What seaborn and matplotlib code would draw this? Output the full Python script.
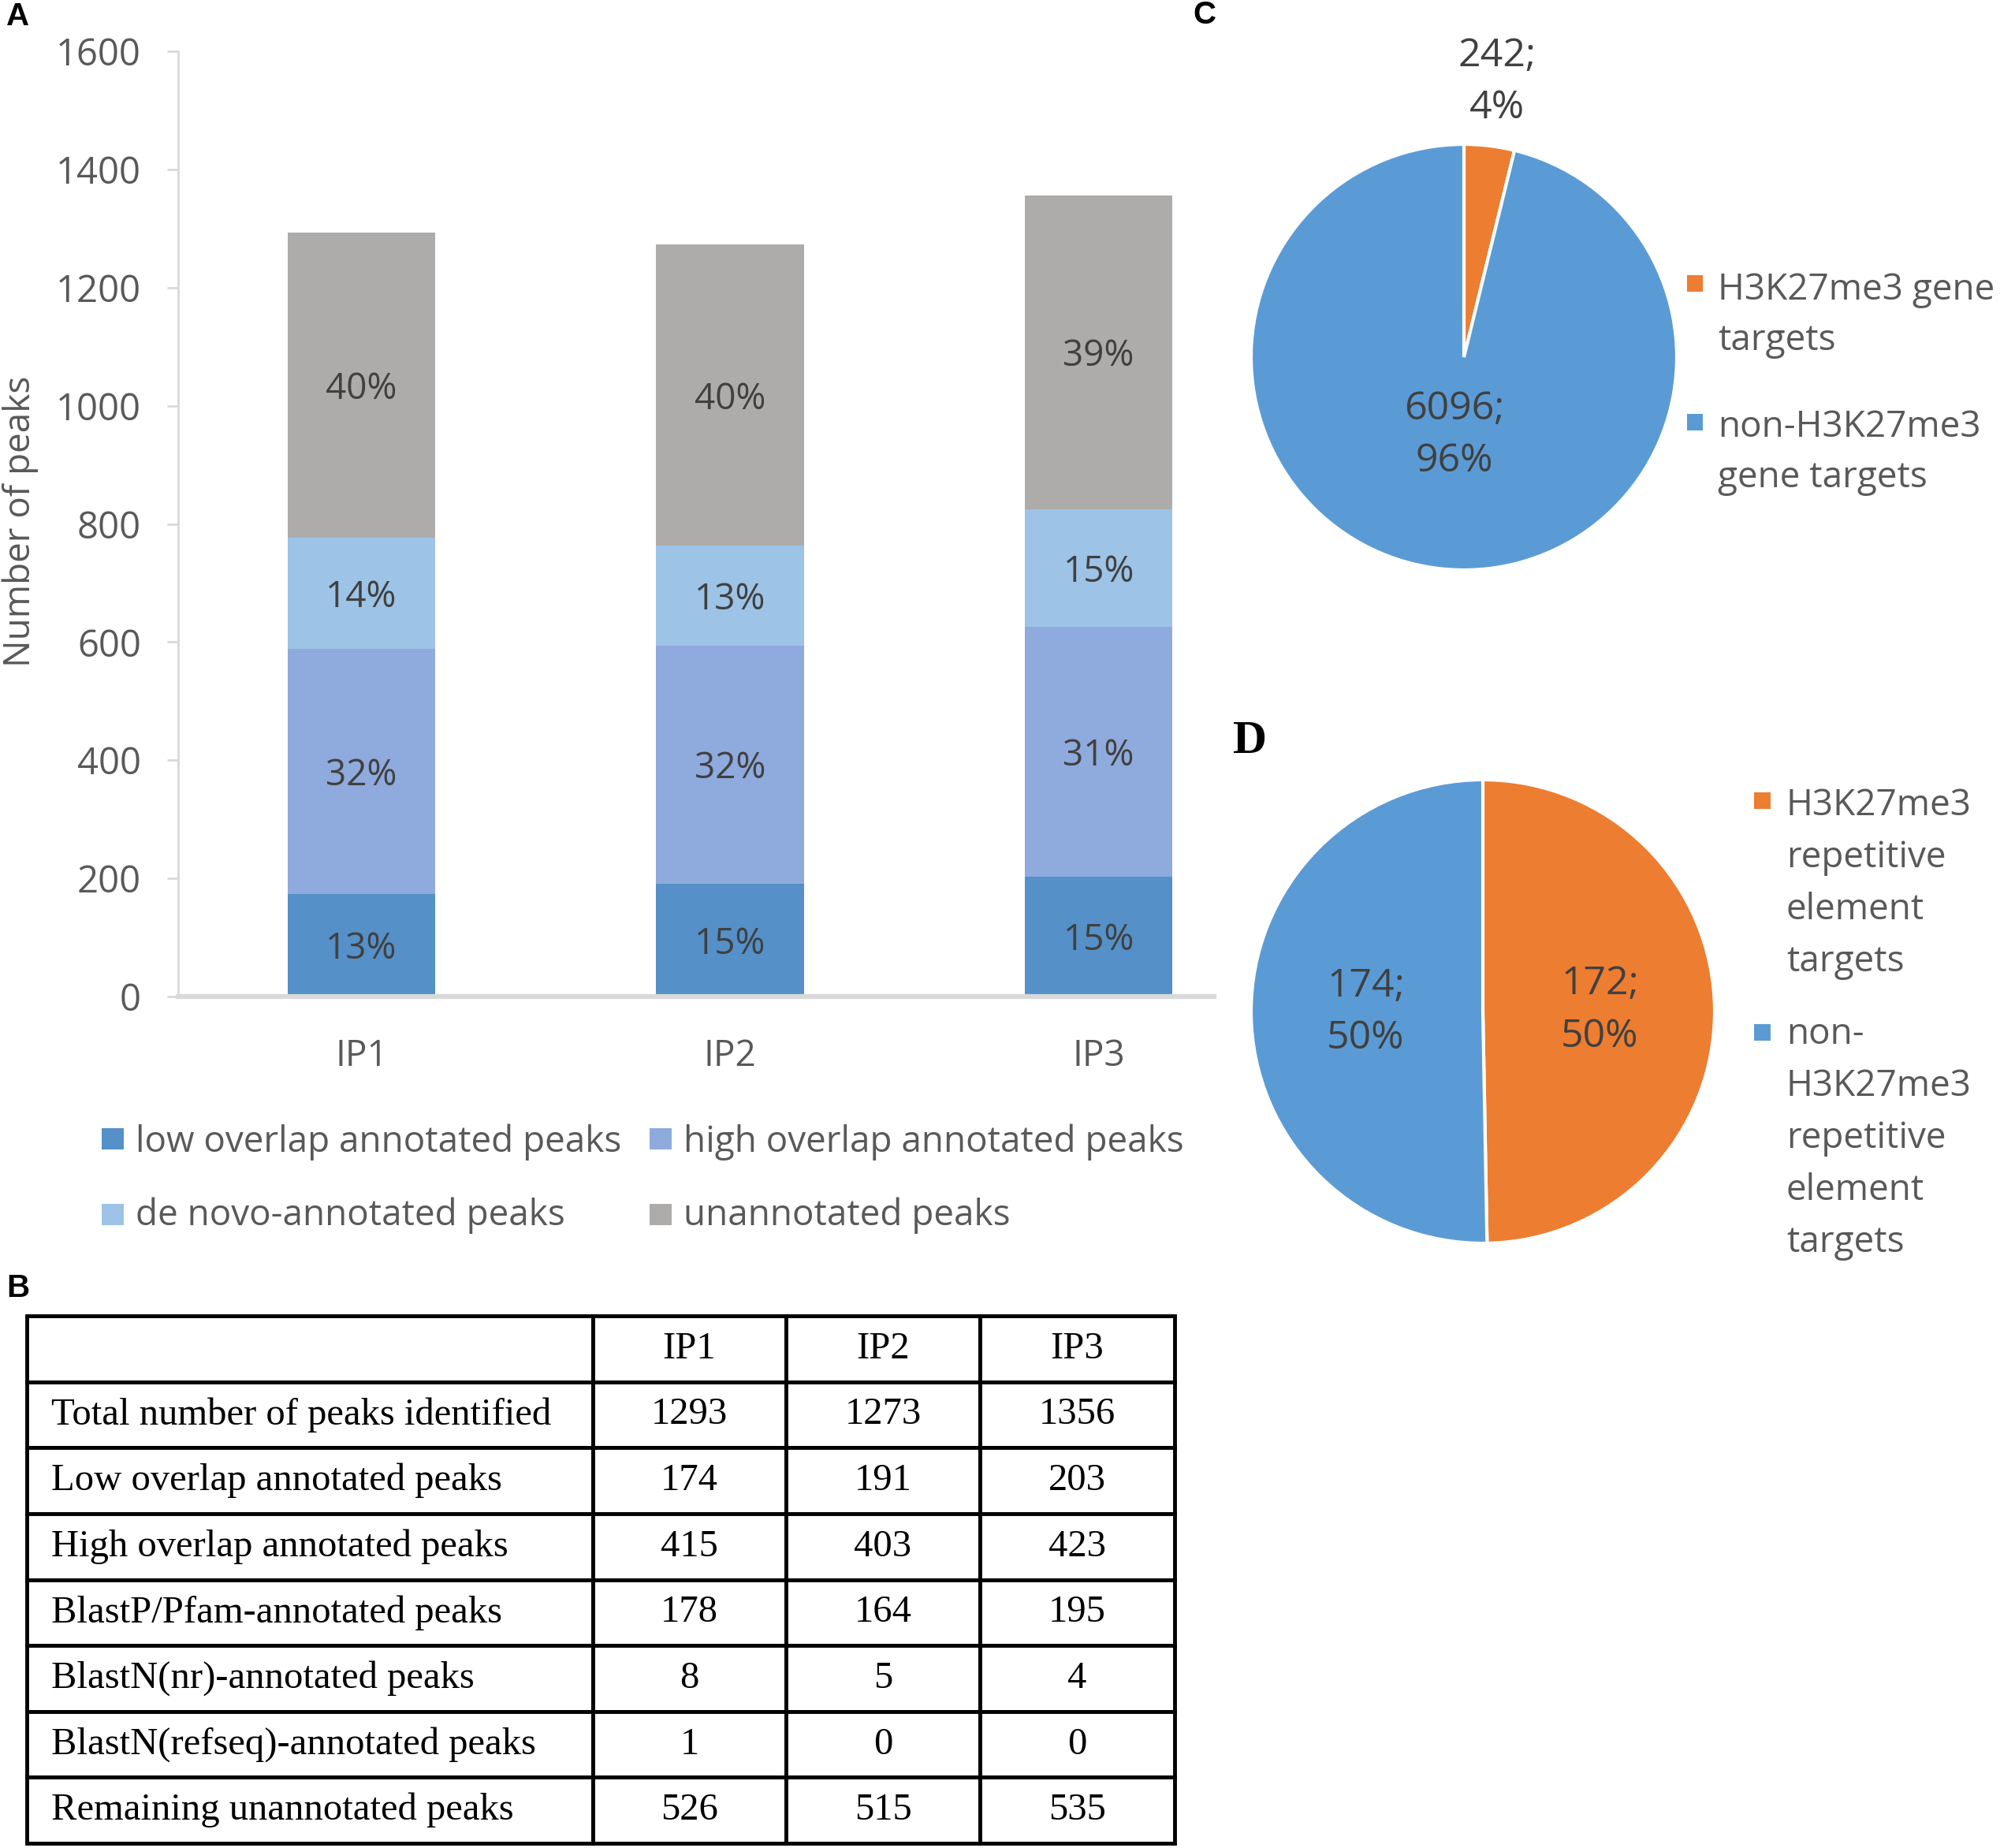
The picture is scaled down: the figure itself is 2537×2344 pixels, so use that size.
import matplotlib
matplotlib.use("Agg")
import matplotlib.pyplot as plt
from matplotlib.patches import Rectangle
import numpy as np
import seaborn as sns

# ---- data -------------------------------------------------------------
samples = ["IP1", "IP2", "IP3"]
low_overlap = [174, 191, 203]
high_overlap = [415, 403, 423]
de_novo = [187, 169, 199]
unannotated = [517, 510, 531]
totals = [1293, 1273, 1356]

layer_names = ["low overlap annotated peaks", "high overlap annotated peaks",
               "de novo-annotated peaks", "unannotated peaks"]
layer_colors = ["#5590C8", "#8FAADC", "#9DC3E6", "#AEABAB"]

table_rows = ["Total number of peaks identified", "Low overlap annotated peaks",
              "High overlap annotated peaks", "BlastP/Pfam-annotated peaks",
              "BlastN(nr)-annotated peaks", "BlastN(refseq)-annotated peaks",
              "Remaining unannotated peaks"]
ip1_counts = [1293, 174, 415, 178, 8, 1, 526]
ip2_counts = [1273, 191, 403, 164, 5, 0, 515]
ip3_counts = [1356, 203, 423, 195, 4, 0, 535]

gene_labels = ["H3K27me3 gene\ntargets", "non-H3K27me3\ngene targets"]
gene_counts = [242, 6096]
rep_labels = ["H3K27me3\nrepetitive\nelement\ntargets",
              "non-\nH3K27me3\nrepetitive\nelement\ntargets"]
rep_counts = [172, 174]

orange = "#ED7D31"
blue = "#5B9BD5"
grey_text = "#595959"
dark_text = "#404040"

W, H = 2537, 2344


def fx(px):
    return px / W


def fy(py):
    return 1 - py / H


def legend_entry(fig, color, box, text, tx, baseline, size, pitch):
    '''Square marker plus a (possibly wrapped) label, lines pitch px apart.'''
    x0, y0, x1, y1 = box
    fig.add_artist(Rectangle((fx(x0), fy(y1)), (x1 - x0) / W, (y1 - y0) / H,
                             transform=fig.transFigure, color=color, lw=0))
    for k, line in enumerate(text.split("\n")):
        fig.text(fx(tx), fy(baseline + k * pitch), line, ha="left",
                 va="baseline", fontsize=size, color=grey_text)


sns.set_theme(style="white")
plt.rcParams["font.family"] = ["Open Sans", "DejaVu Sans"]

fig = plt.figure(figsize=(W / 100, H / 100), dpi=100)

# ---- panel A: stacked bars ---------------------------------------------
ax = fig.add_axes([fx(226), fy(1264), (1540 - 226) / W, (1264 - 65) / H])
layers = [low_overlap, high_overlap, de_novo, unannotated]
cum = np.cumsum(np.array(layers), axis=0)
for i in reversed(range(len(layers))):
    sns.barplot(x=samples, y=cum[i], color=layer_colors[i], width=0.4,
                saturation=1, linewidth=0, errorbar=None, ax=ax)

for i, vals in enumerate(layers):
    for j, v in enumerate(vals):
        ax.text(j, cum[i][j] - v / 2, f"{round(100 * v / totals[j])}%",
                ha="center", va="center_baseline", fontsize=33, color=dark_text)

ax.set_xlim(-0.497, 2.313)
ax.set_ylim(0, 1600)
ax.set_yticks(range(0, 1601, 200))
sns.despine(ax=ax)
ax.spines["left"].set_color("#D9D9D9")
ax.spines["left"].set_linewidth(2)
ax.spines["bottom"].set_color("#D9D9D9")
ax.spines["bottom"].set_linewidth(4.5)
ax.tick_params(axis="y", left=True, length=10, width=2, color="#D9D9D9",
               pad=24, labelsize=34, labelcolor=grey_text)
ax.tick_params(axis="x", bottom=False, length=0, pad=38, labelsize=33,
               labelcolor=grey_text)
ax.set_xlabel("")
ax.set_ylabel("Number of peaks", fontsize=33, color=grey_text)
ax.yaxis.set_label_coords(-0.135, 0.503)

bar_legend = [(0, (129, 1431, 157, 1458), 172, 1461),
              (1, (824, 1431, 852, 1458), 867, 1461),
              (2, (129, 1527, 157, 1554), 172, 1554),
              (3, (824, 1527, 852, 1554), 867, 1554)]
for idx, box, tx, base in bar_legend:
    legend_entry(fig, layer_colors[idx], box, layer_names[idx], tx, base, 33, 0)

# ---- panel B: table ----------------------------------------------------
ax_tab = fig.add_axes([fx(34), fy(2338), 1456 / W, (2338 - 1669) / H])
ax_tab.axis("off")
cell_text = [[name, str(a), str(b), str(c)]
             for name, a, b, c in zip(table_rows, ip1_counts, ip2_counts, ip3_counts)]
col_px = np.array([718, 245, 246, 247])
tab = ax_tab.table(cellText=cell_text, colLabels=[""] + samples,
                   colWidths=list(col_px / col_px.sum()), cellLoc="center",
                   bbox=[0, 0, 1, 1])
tab.auto_set_font_size(False)
for (r, c), cell in tab.get_celld().items():
    cell.set_linewidth(3.5)
    cell.set_edgecolor("black")
    cell.set_facecolor("white")
    txt = cell.get_text()
    txt.set_fontfamily("Liberation Serif")
    txt.set_fontsize(35)
    txt.set_color("black")
    if c == 0:
        cell._loc = "left"
        cell.PAD = 0.043
        txt.set_horizontalalignment("left")

# ---- panel C: gene targets pie -----------------------------------------
r_c = 270
ax_c = fig.add_axes([fx(1857 - r_c), fy(453 + r_c), 2 * r_c / W, 2 * r_c / H])
wedges, _ = ax_c.pie(gene_counts, colors=[orange, blue], startangle=90,
                     counterclock=False,
                     wedgeprops=dict(edgecolor="white", linewidth=3))
ax_c.set_xlim(-1, 1)
ax_c.set_ylim(-1, 1)
for w, n, dist in zip(wedges, gene_counts, [1.30, 0.37]):
    ang = np.deg2rad((w.theta1 + w.theta2) / 2)
    ax_c.text(dist * np.cos(ang), dist * np.sin(ang),
              f"{n};\n{round(100 * n / sum(gene_counts))}%",
              ha="center", va="center", fontsize=36, color=dark_text,
              linespacing=1.45)

legend_entry(fig, orange, (2140, 349, 2160, 370), gene_labels[0], 2179, 380, 33, 64)
legend_entry(fig, blue, (2140, 525, 2160, 546), gene_labels[1], 2179, 554, 33, 64)

# ---- panel D: repetitive element pie -----------------------------------
r_d = 294
ax_d = fig.add_axes([fx(1881 - r_d), fy(1283 + r_d), 2 * r_d / W, 2 * r_d / H])
wedges, _ = ax_d.pie(rep_counts, colors=[orange, blue], startangle=90,
                     counterclock=False,
                     wedgeprops=dict(edgecolor="white", linewidth=3))
ax_d.set_xlim(-1, 1)
ax_d.set_ylim(-1, 1)
for w, n in zip(wedges, rep_counts):
    ang = np.deg2rad((w.theta1 + w.theta2) / 2)
    ax_d.text(0.505 * np.cos(ang), 0.505 * np.sin(ang),
              f"{n};\n{round(100 * n / sum(rep_counts))}%",
              ha="center", va="center", fontsize=36, color=dark_text,
              linespacing=1.45)

legend_entry(fig, orange, (2225, 1005, 2246, 1026), rep_labels[0], 2266, 1034, 33, 66)
legend_entry(fig, blue, (2225, 1299, 2246, 1320), rep_labels[1], 2266, 1324, 33, 66)

# ---- panel letters -----------------------------------------------------
for letter, x, base in [("A", 8, 32), ("B", 8, 1645), ("C", 1513, 30)]:
    fig.text(fx(x), fy(base), letter, ha="left", va="baseline", fontsize=29,
             fontweight="bold", family="Liberation Sans", color="black")
fig.text(fx(1564), fy(955), "D", ha="left", va="baseline", fontsize=43,
         fontweight="bold", family="Liberation Serif", color="black")

fig.savefig("out.png", dpi=100, facecolor="white")
